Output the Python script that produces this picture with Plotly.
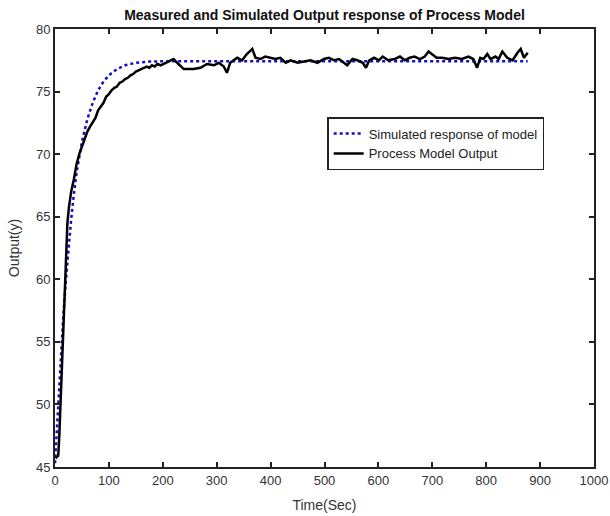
import plotly.graph_objects as go

# Simulated response of model
sim_time = [0, 5, 10, 15, 20, 25, 30, 35, 40, 50, 60, 70, 80, 90, 100, 115, 130, 150,
            175, 200, 300, 400, 500, 600, 700, 800, 877]
sim_value = [45.3, 49.5, 53.2, 56.8, 59.8, 62.5, 64.8, 66.8, 68.5, 71.0, 72.8, 74.1,
             75.1, 75.8, 76.3, 76.8, 77.1, 77.3, 77.4, 77.42, 77.42, 77.42, 77.42,
             77.42, 77.42, 77.42, 77.42]

# Process model output (measured)
meas_time = [1, 3, 6, 8, 11, 14, 17, 20, 23, 26, 30, 35, 40, 45, 50, 55, 60, 65, 70,
             75, 80, 85, 90, 95, 100, 105, 110, 115, 120, 125, 130, 135, 140, 145,
             150, 155, 160, 165, 170, 175, 180, 185, 190, 196, 209, 220, 229, 239,
             257, 270, 282, 295, 304, 313, 319, 325, 338, 347, 356, 366, 372, 381,
             390, 400, 409, 418, 428, 437, 450, 462, 474, 487, 499, 508, 518, 527,
             536, 542, 552, 561, 571, 577, 583, 592, 601, 608, 618, 630, 640, 649,
             658, 667, 677, 686, 693, 699, 708, 718, 730, 742, 755, 767, 776, 783,
             789, 795, 802, 808, 817, 823, 830, 839, 849, 858, 864, 870, 877]
meas_value = [45.7, 45.8, 45.9, 47.5, 51.0, 54.6, 58.5, 62.0, 64.5, 65.8, 67.0, 68.0,
              69.2, 70.0, 70.6, 71.3, 71.8, 72.2, 72.5, 72.9, 73.5, 73.8, 74.1, 74.6,
              74.8, 75.1, 75.3, 75.4, 75.7, 75.8, 76.0, 76.1, 76.3, 76.4, 76.6, 76.7,
              76.8, 76.9, 77.0, 76.9, 77.1, 77.0, 77.2, 77.1, 77.4, 77.6, 77.2, 76.8,
              76.8, 76.9, 77.2, 77.1, 77.3, 77.0, 76.5, 77.3, 77.7, 77.5, 78.0, 78.4,
              77.7, 77.6, 77.8, 77.7, 77.6, 77.7, 77.3, 77.5, 77.3, 77.4, 77.5, 77.3,
              77.6, 77.7, 77.5, 77.6, 77.3, 77.1, 77.6, 77.5, 77.3, 76.9, 77.5, 77.7,
              77.5, 77.8, 77.5, 77.6, 77.8, 77.5, 77.7, 77.8, 77.6, 77.8, 78.2, 78.0,
              77.7, 77.7, 77.6, 77.7, 77.6, 77.8, 77.6, 76.9, 77.7, 77.6, 78.0, 77.6,
              77.8, 77.6, 78.2, 77.7, 77.5, 78.1, 78.4, 77.7, 78.1]

x_ticks = [0, 100, 200, 300, 400, 500, 600, 700, 800, 900, 1000]
y_ticks = [45, 50, 55, 60, 65, 70, 75, 80]

FONT = "Liberation Sans, Arial, sans-serif"
W, H = 610, 516

fig = go.Figure()
fig.add_trace(go.Scatter(
    x=sim_time, y=sim_value, mode="lines", name="Simulated response of model",
    line=dict(color="#1010c0", width=2.5, dash="dot"),
))
fig.add_trace(go.Scatter(
    x=meas_time, y=meas_value, mode="lines", name="Process Model Output",
    line=dict(color="black", width=2.5),
))

axis_common = dict(
    showgrid=False, zeroline=False, showline=True, linecolor="#222", linewidth=2,
    mirror="ticks", ticks="inside", ticklen=5, tickwidth=2, tickcolor="#222",
    tickfont=dict(family=FONT, size=13, color="#333"),
)

fig.update_layout(
    width=W, height=H,
    margin=dict(l=55, r=16, t=29, b=49, autoexpand=False),
    paper_bgcolor="white", plot_bgcolor="white",
    font=dict(family=FONT, color="#222"),
    title=dict(text="<b>Measured and Simulated Output response of Process Model</b>",
               x=0.5, xref="paper", xanchor="center", y=1 - 15 / H, yanchor="middle",
               font=dict(family=FONT, size=14, color="#111")),
    xaxis=dict(range=[0, 1000], tickvals=x_ticks,
               title=dict(text="Time(Sec)", font=dict(family=FONT, size=14, color="#333"), standoff=14),
               **axis_common),
    yaxis=dict(range=[45, 80], tickvals=y_ticks,
               title=dict(text="Output(y)", font=dict(family=FONT, size=14, color="#333"), standoff=13),
               **axis_common),
    legend=dict(x=0.505, y=0.799, xanchor="left", yanchor="top",
                bgcolor="white", bordercolor="#222", borderwidth=1.5,
                font=dict(family=FONT, size=13, color="#222"),
                tracegroupgap=0, itemwidth=30),
    showlegend=True,
)

fig.write_html(
    "out.html",
    config={"displayModeBar": False},
    post_script="document.body.style.margin='0';document.body.style.overflow='hidden';",
)
